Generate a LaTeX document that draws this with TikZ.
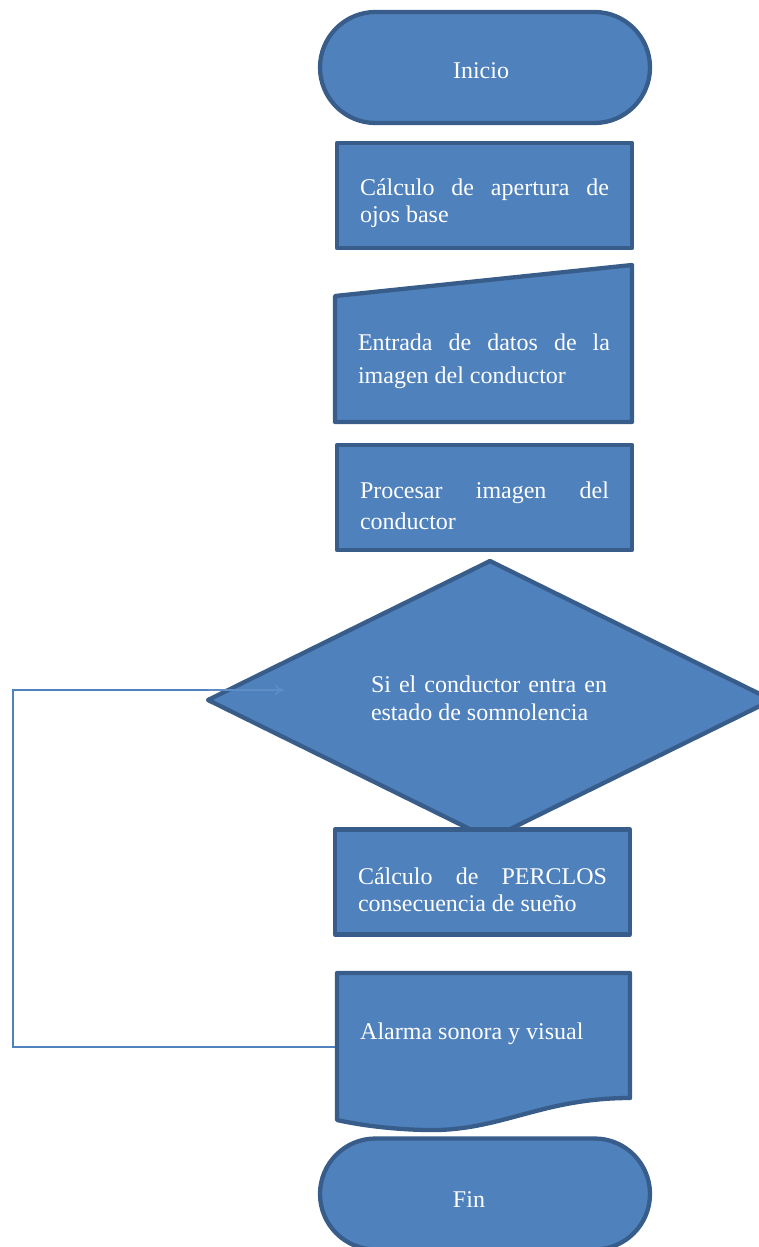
\documentclass[tikz,border=0pt]{standalone}
\usepackage{fontspec}
\setmainfont{Liberation Serif}
\usetikzlibrary{arrows.meta}
\definecolor{boxfill}{HTML}{4F81BD}
\definecolor{boxline}{HTML}{385D8A}
\definecolor{loopline}{HTML}{4F81BD}
\definecolor{faintline}{HTML}{5F8DC6}
\tikzset{
  shapebox/.style={fill=boxfill, draw=boxline, line width=4.3pt, line join=round},
  term/.style={shapebox, rectangle, rounded corners=55.5pt, minimum width=330pt, minimum height=111pt, inner sep=0pt},
  procbox/.style={shapebox, rectangle, minimum width=295pt, minimum height=105pt, inner sep=0pt},
  txt/.style={text=white, font=\fontsize{24}{27}\selectfont, inner sep=0pt, align=justify},
  looparrow/.style={draw=loopline, line width=1.8pt},
}
\begin{document}
\begin{tikzpicture}[x=1pt,y=-1pt]
\useasboundingbox (0,0) rectangle (758,1247);
% loop connector (behind shapes)
\coordinate (loopstart) at (337,1047);
\coordinate (c1) at (13,1047);
\coordinate (c2) at (13,690);
\coordinate (dleft) at (208,690);
\coordinate (loopend) at (284,690);
\draw[looparrow] (loopstart) -- (c1) -- (c2) -- (dleft);

% Inicio
\node[term] (inicio) at (485,67.5) {};
\node[txt] (inicioT) at (481,71) {Inicio};

% Calculo apertura
\node[procbox] (calc) at (484.5,195.5) {};
\node[txt, text width=249pt] (calcT) at (484.5,203) {C\'alculo de apertura de\linebreak ojos base};

% Manual input
\path[shapebox] (335,296) -- (632,265) -- (632,422) -- (335,422) -- cycle;
\node[txt, text width=252pt, font=\fontsize{24}{33}\selectfont] (entrada) at (484,361) {Entrada de datos de la\linebreak imagen del conductor};

% Procesar
\node[procbox] (proc) at (484.5,497.5) {};
\node[txt, text width=249pt, font=\fontsize{24}{31}\selectfont] (procT) at (484.5,506) {Procesar imagen del\linebreak conductor};

% Decision
\path[shapebox] (208,700) -- (490,561) -- (772,700) -- (490,839) -- cycle;
\node[txt, text width=236pt, font=\fontsize{24}{28}\selectfont] (decision) at (489,698) {Si el conductor entra en\linebreak estado de somnolencia};
\draw[looparrow, draw=faintline, line width=1.5pt, -{To[length=9pt,width=10pt]}] (dleft) -- (loopend);

% PERCLOS
\node[procbox] (perclos) at (482.5,882) {};
\node[txt, text width=249pt] (perclosT) at (482.5,889.5) {C\'alculo de PERCLOS\linebreak consecuencia de sue\~no};

% Document: alarma
\path[shapebox] (337,973) -- (630,973) -- (630,1098)
  .. controls (540,1098) and (500,1132) .. (425,1130)
  .. controls (385,1129) and (355,1124) .. (337,1120) -- cycle;
\node[txt, anchor=west] (alarma) at (360,1034) {Alarma sonora y visual};

% Fin
\node[term] (fin) at (485,1194) {};
\node[txt] (finT) at (469,1200) {Fin};
\end{tikzpicture}
\end{document}
